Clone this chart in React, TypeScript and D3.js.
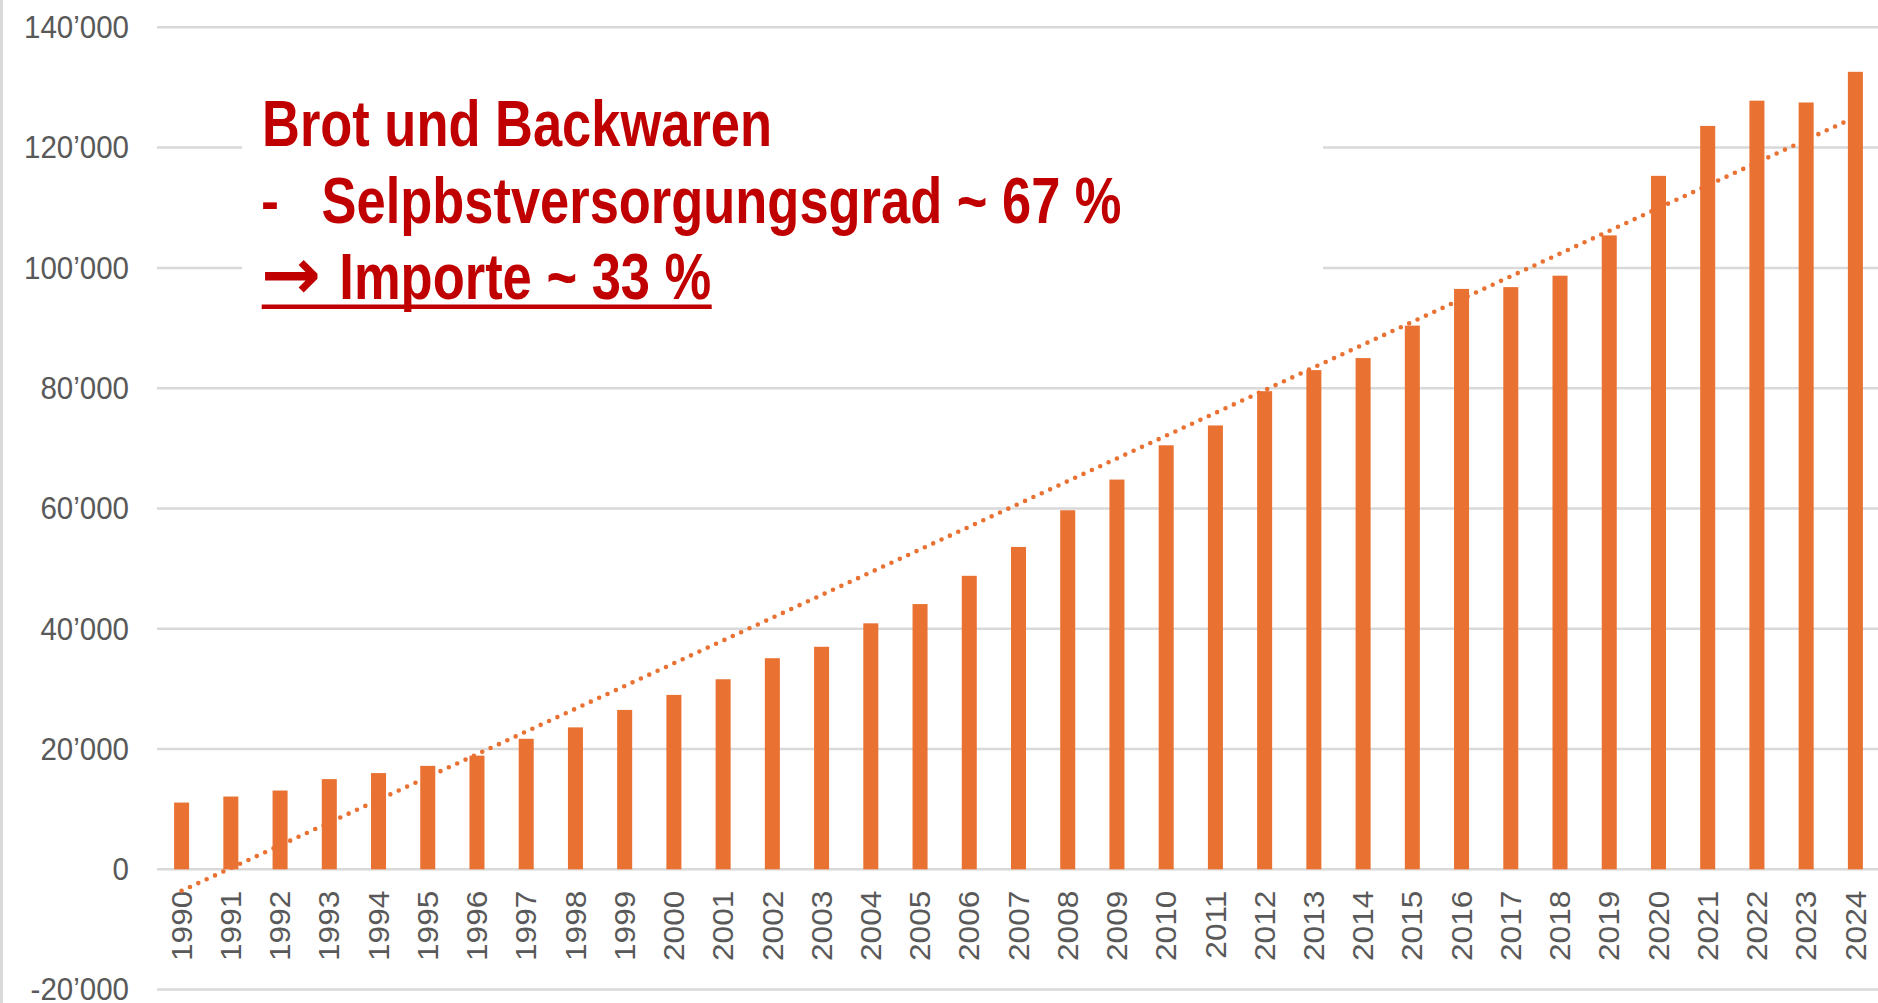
import React, { useEffect, useRef } from 'react';
import * as d3 from 'd3';

const years = [
  '1990', '1991', '1992', '1993', '1994', '1995', '1996', '1997', '1998', '1999',
  '2000', '2001', '2002', '2003', '2004', '2005', '2006', '2007', '2008', '2009',
  '2010', '2011', '2012', '2013', '2014', '2015', '2016', '2017', '2018', '2019',
  '2020', '2021', '2022', '2023', '2024',
];
const volumes = [
  11100, 12100, 13100, 15000, 16000, 17200, 18900, 21700, 23600, 26500,
  29000, 31600, 35100, 37000, 40900, 44100, 48800, 53600, 59700, 64800,
  70500, 73800, 79500, 83000, 85000, 90400, 96500, 96800, 98700, 105400,
  115300, 123600, 127800, 127500, 132600,
];
const yTicks = [-20000, 0, 20000, 40000, 60000, 80000, 100000, 120000, 140000];

const title = 'Brot und Backwaren';
const bullet = 'Selpbstversorgungsgrad ~ 67 %';
const conclusion = 'Importe ~ 33 %';

const W = 1878;
const H = 1003;
const FONT = '"Liberation Sans", Arial, sans-serif';
const ORANGE = '#E97132';
const RED = '#C00000';

const App = () => {
  const svgRef = useRef<SVGSVGElement>(null);

  useEffect(() => {
    const svg = d3.select(svgRef.current);
    svg.selectAll('*').remove();

    const x = d3.scaleBand()
      .domain(years)
      .range([157, 1880])
      .paddingInner(0.695)
      .paddingOuter(0.3475);

    const y = d3.scaleLinear()
      .domain([-20000, 140000])
      .range([989.6, 27.3]);

    const fmt = d3.formatLocale({
      decimal: '.', thousands: '\u2019', grouping: [3], currency: ['', ''], minus: '-',
    }).format(',d');

    // frame edge on the left
    svg.append('line')
      .attr('x1', 1.5).attr('x2', 1.5).attr('y1', 0).attr('y2', H)
      .attr('stroke', '#d9d9d9').attr('stroke-width', 3);

    // gridlines
    svg.append('g')
      .selectAll('line')
      .data(yTicks)
      .join('line')
      .attr('x1', 157).attr('x2', W)
      .attr('y1', d => y(d)).attr('y2', d => y(d))
      .attr('stroke', '#d9d9d9')
      .attr('stroke-width', 2.5);

    const yAxis = svg.append('g')
      .attr('transform', 'translate(157,0)')
      .call(d3.axisLeft(y).tickValues(yTicks).tickFormat(fmt).tickSize(0).tickPadding(28));
    yAxis.select('.domain').remove();
    yAxis.attr('font-family', FONT).attr('font-size', 29.5);
    yAxis.selectAll('text')
      .attr('fill', '#595959')
      .attr('transform', 'scale(1,1.09)');

    const xAxis = svg.append('g')
      .attr('transform', `translate(0,${y(0)})`)
      .call(d3.axisBottom(x).tickSize(0).tickPadding(0));
    xAxis.select('.domain').remove();
    xAxis.attr('font-family', FONT).attr('font-size', 29);
    xAxis.selectAll('text')
      .attr('fill', '#595959')
      .attr('text-anchor', 'end')
      .attr('x', -19.6)
      .attr('y', 0)
      .attr('dy', '0.35em')
      .attr('transform', 'scale(1,1.09) rotate(-90)');

    // bars
    svg.append('g')
      .selectAll('rect')
      .data(volumes)
      .join('rect')
      .attr('x', (d, i) => x(years[i]))
      .attr('y', d => y(d))
      .attr('width', x.bandwidth())
      .attr('height', d => y(0) - y(d))
      .attr('fill', ORANGE);

    // linear trend (least squares over the bars)
    const idx = years.map((_, i) => i);
    const mx = d3.mean(idx);
    const my = d3.mean(volumes);
    const slope = d3.sum(idx, i => (i - mx) * (volumes[i] - my)) / d3.sum(idx, i => (i - mx) ** 2);
    const intercept = my - slope * mx;
    const trend = years.map((yr, i) => [yr, intercept + slope * i]);

    const line = d3.line()
      .x(d => x(d[0]) + x.bandwidth() / 2)
      .y(d => y(d[1]));

    svg.append('path')
      .datum(trend)
      .attr('d', line)
      .attr('fill', 'none')
      .attr('stroke', ORANGE)
      .attr('stroke-width', 4.6)
      .attr('stroke-linecap', 'round')
      .attr('stroke-dasharray', '0 9.2');

    // text box
    svg.append('rect')
      .attr('x', 242).attr('y', 60).attr('width', 1081).attr('height', 270)
      .attr('fill', '#fff');

    const note = svg.append('g')
      .attr('fill', RED)
      .attr('font-family', FONT)
      .attr('font-weight', 'bold')
      .attr('font-size', 64);

    note.append('text')
      .attr('x', 262).attr('y', 146)
      .attr('textLength', 510).attr('lengthAdjust', 'spacingAndGlyphs')
      .text(title);

    note.append('text')
      .attr('x', 261).attr('y', 219.6)
      .attr('font-size', 56)
      .attr('textLength', 18).attr('lengthAdjust', 'spacingAndGlyphs')
      .text('-');

    note.append('text')
      .attr('x', 321.5).attr('y', 223.3)
      .attr('textLength', 800).attr('lengthAdjust', 'spacingAndGlyphs')
      .text(bullet);

    note.append('text')
      .attr('x', 261).attr('y', 299.3)
      .attr('font-family', '"DejaVu Sans", sans-serif')
      .attr('font-size', 72)
      .attr('textLength', 60).attr('lengthAdjust', 'spacingAndGlyphs')
      .text('\u2192');

    note.append('text')
      .attr('x', 339.3).attr('y', 299.3)
      .attr('textLength', 372).attr('lengthAdjust', 'spacingAndGlyphs')
      .text(conclusion);

    note.append('line')
      .attr('x1', 261.7).attr('x2', 711.7).attr('y1', 306.7).attr('y2', 306.7)
      .attr('stroke', RED).attr('stroke-width', 4.5);
  }, []);

  return (
    <svg
      ref={svgRef}
      width={W}
      height={H}
      style={{ position: 'absolute', left: 0, top: 0, display: 'block', background: '#fff' }}
    />
  );
};

export default App;
